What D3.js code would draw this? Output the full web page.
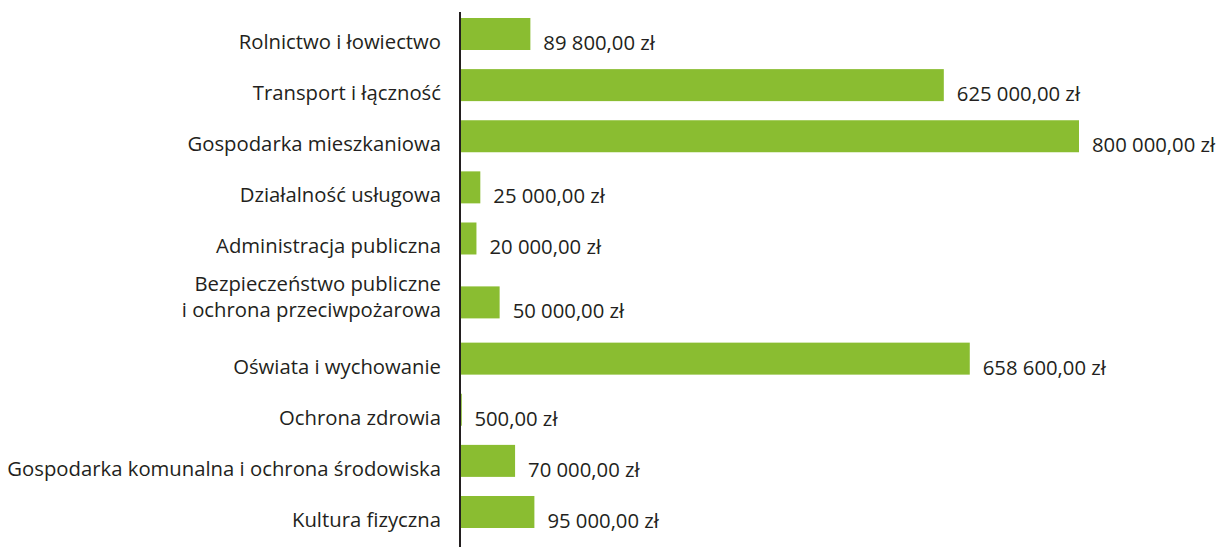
<!DOCTYPE html>
<html lang="pl">
<head>
<meta charset="utf-8">
<script src="https://d3js.org/d3.v7.min.js"></script>
<style>
  html, body { margin: 0; padding: 0; background: #fff; }
  svg text { font-family: "Open Sans", "Noto Sans", sans-serif; fill: #231f20; }
</style>
</head>
<body>
<svg id="chart" width="1221" height="547"></svg>
<script>
// categories (top to bottom), a "\n" splits a label in two lines
const categories = [
  "Rolnictwo i łowiectwo",
  "Transport i łączność",
  "Gospodarka mieszkaniowa",
  "Działalność usługowa",
  "Administracja publiczna",
  "Bezpieczeństwo publiczne\ni ochrona przeciwpożarowa",
  "Oświata i wychowanie",
  "Ochrona zdrowia",
  "Gospodarka komunalna i ochrona środowiska",
  "Kultura fizyczna"
];
const amounts = [89800, 625000, 800000, 25000, 20000, 50000, 658600, 500, 70000, 95000];

const width = 1221;
const height = 547;
const axisX = 460;
const fontSize = 20.3;
const barH = 32;
const lineGap = 26;

const pl = d3.formatLocale({
  decimal: ",",
  thousands: " ",
  grouping: [3],
  currency: ["", " zł"]
});
const fmt = (v) => pl.format(",.2f")(v) + " zł";

// rows with two-line labels get a bit more room around them
let pos = 0;
const data = categories.map((c, i) => {
  const lines = c.split("\n");
  const extra = lines.length > 1;
  if (extra) pos += 0.25;
  const row = { name: c, lines, value: amounts[i], slot: pos };
  pos += 1 + (extra ? 0.1 : 0);
  return row;
});
const lastSlot = data[data.length - 1].slot;

const x = d3.scaleLinear().domain([0, 800000]).range([axisX + 1, 1079]);
const y = d3.scaleLinear().domain([0, lastSlot]).range([18, 496]);

const svg = d3.select("#chart");

// bars
svg.append("g")
  .selectAll("rect")
  .data(data)
  .join("rect")
  .attr("x", x(0))
  .attr("y", (d) => y(d.slot))
  .attr("width", (d) => Math.max(0.8, x(d.value) - x(0)))
  .attr("height", barH)
  .attr("fill", "#8abd31");

// value labels
svg.append("g")
  .selectAll("text")
  .data(data)
  .join("text")
  .attr("x", (d) => x(d.value) + 13)
  .attr("y", (d) => y(d.slot) + barH / 2 + 16)
  .attr("font-size", fontSize)
  .text((d) => fmt(d.value));

// category labels
const labels = svg.append("g")
  .selectAll("text")
  .data(data)
  .join("text")
  .attr("text-anchor", "end")
  .attr("font-size", fontSize)
  .attr("x", axisX - 19)
  .attr("y", (d) => y(d.slot) + barH / 2 + 15 - (d.lines.length - 1) * lineGap);

labels.each(function (d) {
  const t = d3.select(this);
  d.lines.forEach((line, i) => {
    t.append("tspan")
      .attr("x", axisX - 19)
      .attr("dy", i === 0 ? 0 : lineGap)
      .text(line);
  });
});

// vertical axis line
svg.append("line")
  .attr("x1", axisX)
  .attr("x2", axisX)
  .attr("y1", 12)
  .attr("y2", height)
  .attr("stroke", "#231f20")
  .attr("stroke-width", 2);
</script>
</body>
</html>
